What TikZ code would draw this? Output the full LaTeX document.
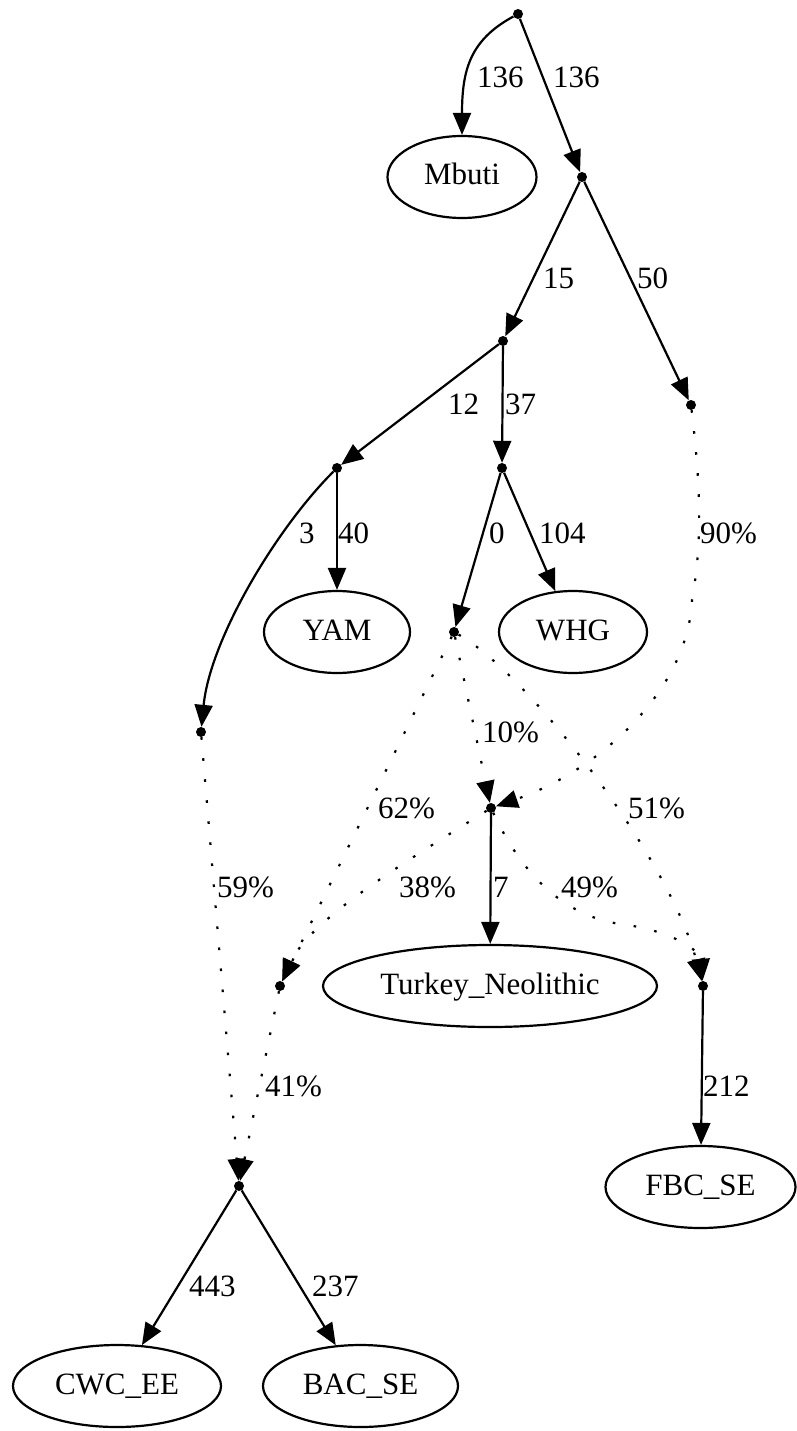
\documentclass[tikz,border=0pt]{standalone}
\usepackage{fontspec}
\setmainfont{Liberation Serif}
\usetikzlibrary{arrows.meta,shapes.geometric}
\tikzset{
  pnt/.style={circle, fill=black, inner sep=0pt, minimum size=10pt},
  pop/.style={ellipse, draw, line width=2.2pt, inner sep=0pt, minimum height=82pt,
    font=\fontsize{31}{36}\selectfont, text height=22pt, text depth=6pt},
  lab/.style={anchor=base west, inner sep=0pt, font=\fontsize{31}{36}\selectfont},
  edge/.style={line width=2.2pt, -{Triangle[length=22pt,width=18pt]}},
  mix/.style={edge, dash pattern=on 2.6pt off 18.5pt},
}
\begin{document}
\begin{tikzpicture}[x=1pt,y=-1pt]
\useasboundingbox (0,0) rectangle (796,1431);
% points
\node[pnt] (R) at (518,14) {};
\node[pnt] (A) at (582,177) {};
\node[pnt] (B) at (503,341) {};
\node[pnt] (C) at (691,405) {};
\node[pnt] (D) at (337,468) {};
\node[pnt] (E) at (502,468) {};
\node[pnt] (F) at (201,732) {};
\node[pnt] (G) at (454,632) {};
\node[pnt] (H) at (491,808) {};
\node[pnt] (I) at (280,986) {};
\node[pnt] (J) at (703,986) {};
\node[pnt] (K) at (239,1186) {};
% populations
\node[pop, minimum width=149pt] (Mbuti) at (462,177) {Mbuti};
\node[pop, minimum width=146pt] (YAM) at (337,632) {YAM};
\node[pop, minimum width=148pt] (WHG) at (573,632) {WHG};
\node[pop, minimum width=334pt] (TN) at (490,986) {Turkey\_Neolithic};
\node[pop, minimum width=190pt] (FBC) at (700.5,1187) {FBC\_SE};
\node[pop, minimum width=208pt] (CWC) at (117,1386) {CWC\_EE};
\node[pop, minimum width=195pt] (BAC) at (360.5,1386) {BAC\_SE};
% tree edges
\draw[edge] (R) .. controls (470,40) and (462,70) .. (Mbuti);
\draw[edge] (R) -- (A);
\draw[edge] (A) -- (B);
\draw[edge] (A) -- (C);
\draw[edge] (B) -- (D);
\draw[edge] (B) -- (E);
\draw[edge] (D) -- (YAM);
\draw[edge] (D) .. controls (275,530) and (210,640) .. (F);
\draw[edge] (E) -- (G);
\draw[edge] (E) -- (WHG);
\draw[edge] (H) -- (TN);
\draw[edge] (J) -- (FBC);
\draw[edge] (K) -- (CWC);
\draw[edge] (K) -- (BAC);
% admixture edges
\draw[mix] (C) .. controls (700,480) and (703,540) .. (692,600) .. controls (688,690) and (600,770) .. (H);
\draw[mix] (G) -- (H);
\draw[mix] (G) -- (I);
\draw[mix] (G) .. controls (530,675) and (670,860) .. (J);
\draw[mix] (H) .. controls (400,865) and (310,920) .. (I);
\draw[mix] (H) .. controls (520,870) and (560,915) .. (620,924) .. controls (670,930) and (700,950) .. (J);
\draw[mix] (F) -- (K);
\draw[mix] (I) -- (K);
% labels
\node[lab] (l1) at (477,88) {136};
\node[lab] (l2) at (553,88) {136};
\node[lab] (l3) at (543,288) {15};
\node[lab] (l4) at (637,288) {50};
\node[lab] (l5) at (448,414) {12};
\node[lab] (l6) at (505,414) {37};
\node[lab] (l7) at (299,543) {3};
\node[lab] (l8) at (338,543) {40};
\node[lab] (l9) at (489,543) {0};
\node[lab] (l10) at (539,543) {104};
\node[lab] (l11) at (700,543) {90\%};
\node[lab] (l12) at (482,742) {10\%};
\node[lab] (l13) at (378,818) {62\%};
\node[lab] (l14) at (628,818) {51\%};
\node[lab] (l15) at (217,897) {59\%};
\node[lab] (l16) at (399,897) {38\%};
\node[lab] (l17) at (493,897) {7};
\node[lab] (l18) at (561,897) {49\%};
\node[lab] (l19) at (265,1096) {41\%};
\node[lab] (l20) at (703,1096) {212};
\node[lab] (l21) at (189,1296) {443};
\node[lab] (l22) at (312,1296) {237};
\end{tikzpicture}
\end{document}
